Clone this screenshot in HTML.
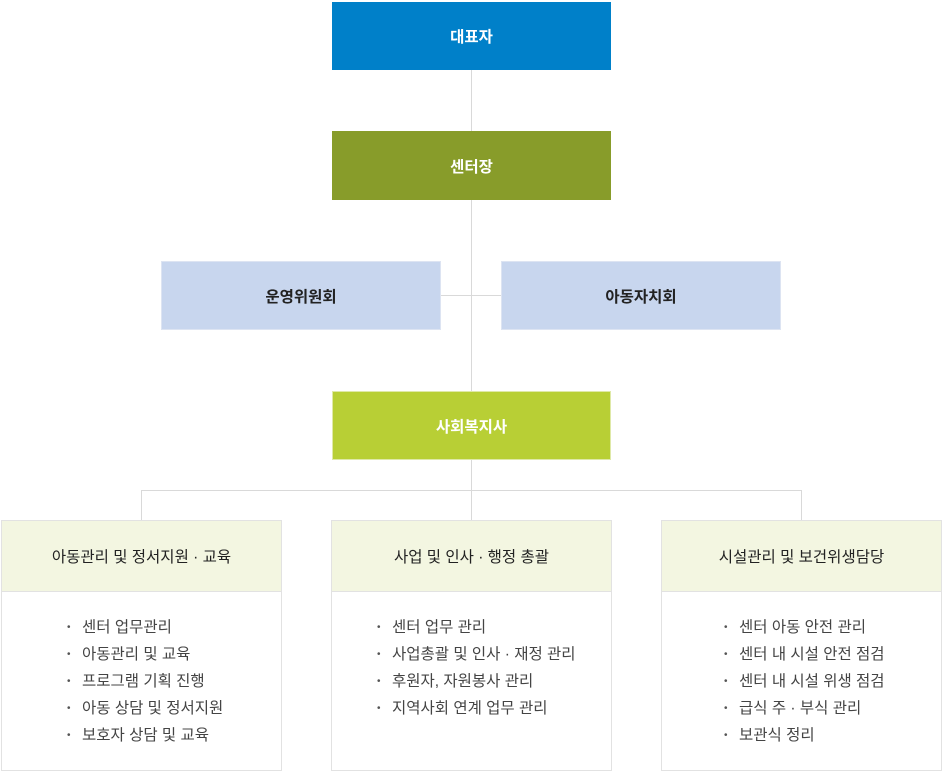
<!DOCTYPE html>
<html><head><meta charset="utf-8"><style>
body{margin:0;width:942px;height:772px;background:#fff;position:relative;font-family:"Liberation Sans","Noto Sans CJK KR",sans-serif;overflow:hidden}
.b{position:absolute;display:flex;align-items:center;justify-content:center;font-size:15.5px;font-weight:bold;box-sizing:border-box}
.l{position:absolute;background:#d9d9d9}
.card{position:absolute;top:520px;width:281px;height:251px;border:1px solid #e2e2e2;box-sizing:border-box;background:#fff}
.card .h{height:70px;background:#f3f6e1;border-bottom:1px solid #e2e2e2;display:flex;align-items:center;justify-content:center;font-size:15.5px;color:#222}
.card ul{list-style:none;margin:0;padding:0;position:absolute;font-size:15.5px;color:#444;line-height:27px}
.card li:before{content:"•";font-size:10px;position:absolute;left:-15px;color:#555}
.card li{position:relative}
</style></head><body>
<div class="l" style="left:471px;top:70px;width:1px;height:420px"></div>
<div class="l" style="left:441px;top:295px;width:60px;height:1px"></div>
<div class="l" style="left:141px;top:490px;width:661px;height:1px"></div>
<div class="l" style="left:141px;top:490px;width:1px;height:31px"></div>
<div class="l" style="left:801px;top:490px;width:1px;height:31px"></div>
<div class="l" style="left:471px;top:490px;width:1px;height:31px"></div>
<div class="b" style="left:332px;top:2px;width:279px;height:68px;background:#0080c9;color:#fff">대표자</div>
<div class="b" style="left:332px;top:131px;width:279px;height:69px;background:#889c2a;color:#fff">센터장</div>
<div class="b" style="left:161px;top:261px;width:280px;height:69px;background:#c8d6ee;border:1px solid #dde4f2;color:#222">운영위원회</div>
<div class="b" style="left:501px;top:261px;width:280px;height:69px;background:#c8d6ee;border:1px solid #dde4f2;color:#222">아동자치회</div>
<div class="b" style="left:332px;top:391px;width:279px;height:69px;background:#b8cf35;border:1px solid #dfe9a8;color:#fff">사회복지사</div>
<div class="card" style="left:1px"><div class="h">아동관리 및 정서지원 · 교육</div>
<ul style="left:80px;top:93px"><li>센터 업무관리</li><li>아동관리 및 교육</li><li>프로그램 기획 진행</li><li>아동 상담 및 정서지원</li><li>보호자 상담 및 교육</li></ul></div>
<div class="card" style="left:331px"><div class="h">사업 및 인사 · 행정 총괄</div>
<ul style="left:60px;top:93px"><li>센터 업무 관리</li><li>사업총괄 및 인사 · 재정 관리</li><li>후원자, 자원봉사 관리</li><li>지역사회 연계 업무 관리</li></ul></div>
<div class="card" style="left:661px"><div class="h">시설관리 및 보건위생담당</div>
<ul style="left:77px;top:93px"><li>센터 아동 안전 관리</li><li>센터 내 시설 안전 점검</li><li>센터 내 시설 위생 점검</li><li>급식 주 · 부식 관리</li><li>보관식 정리</li></ul></div>
</body></html>
